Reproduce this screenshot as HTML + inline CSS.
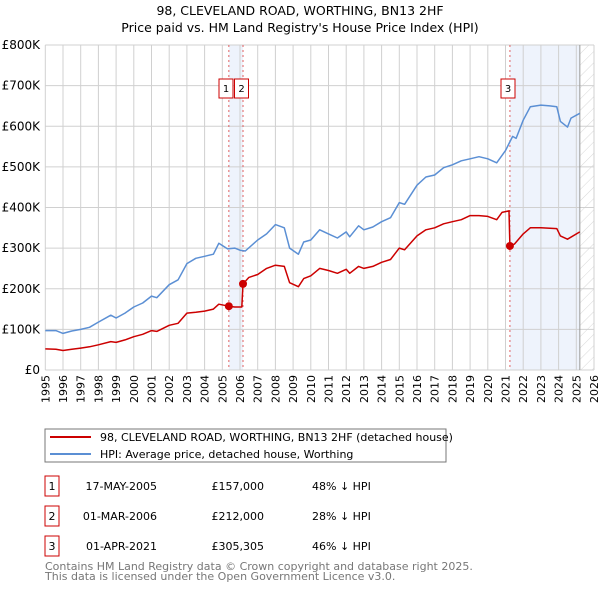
<!DOCTYPE html>
<html><head><meta charset="utf-8"><style>
body{margin:0;background:#fff;font-family:"Liberation Sans","DejaVu Sans",sans-serif;}
svg text{font-family:"DejaVu Sans","Liberation Sans",sans-serif;}
</style></head><body>
<svg id="c" width="600" height="590" viewBox="0 0 600 590" xmlns="http://www.w3.org/2000/svg">
<defs><pattern id="hatch" width="8" height="8" patternUnits="userSpaceOnUse" patternTransform="rotate(45)"><line x1="0" y1="0" x2="0" y2="8" stroke="#d8d8d8" stroke-width="1"/></pattern></defs>
<text x="300" y="15" text-anchor="middle" font-size="12.5">98, CLEVELAND ROAD, WORTHING, BN13 2HF</text>
<text x="300" y="32" text-anchor="middle" font-size="12.5">Price paid vs. HM Land Registry's House Price Index (HPI)</text>
<g id="bands"></g><g id="grid"></g><g id="series"></g><g id="marks"></g>
<rect x="45" y="429" width="401" height="33" fill="#fff" stroke="#777"/>
<line x1="50" y1="437" x2="91" y2="437" stroke="#cc0000" stroke-width="2"/>
<text x="100" y="441" font-size="11">98, CLEVELAND ROAD, WORTHING, BN13 2HF (detached house)</text>
<line x1="50" y1="454" x2="91" y2="454" stroke="#5b8fd4" stroke-width="2"/>
<text x="100" y="458" font-size="11">HPI: Average price, detached house, Worthing</text>
<g id="table" font-size="11"></g>
<text x="45" y="570" font-size="11" fill="#777">Contains HM Land Registry data © Crown copyright and database right 2025.</text>
<text x="45" y="580" font-size="11" fill="#777">This data is licensed under the Open Government Licence v3.0.</text>
</svg>
<script>
const yearTicks=[1995,1996,1997,1998,1999,2000,2001,2002,2003,2004,2005,2006,2007,2008,2009,2010,2011,2012,2013,2014,2015,2016,2017,2018,2019,2020,2021,2022,2023,2024,2025,2026];
const valueTicks=[0,100,200,300,400,500,600,700,800];
const valueTickLabels=["£0","£100K","£200K","£300K","£400K","£500K","£600K","£700K","£800K"];
const hpiDates=[1995,1995.6,1996,1996.5,1997,1997.5,1998,1998.7,1999,1999.5,2000,2000.5,2001,2001.3,2002,2002.5,2003,2003.5,2004,2004.5,2004.8,2005.3,2005.7,2006,2006.3,2007,2007.5,2008,2008.5,2008.8,2009.3,2009.6,2010,2010.5,2011,2011.5,2012,2012.2,2012.7,2013,2013.5,2014,2014.5,2015,2015.3,2016,2016.5,2017,2017.5,2018,2018.5,2019,2019.5,2020,2020.5,2021,2021.4,2021.6,2022,2022.4,2023,2023.5,2023.9,2024.1,2024.5,2024.7,2025.2];
const hpiValues=[97,97,90,96,100,105,118,135,128,140,155,165,182,178,210,222,262,275,280,285,312,298,300,295,293,320,335,358,350,300,285,315,320,345,335,325,340,328,355,345,352,365,375,412,408,455,475,480,498,505,515,520,525,520,510,540,575,570,615,648,652,650,648,612,598,620,632];
const propDates=[1995,1995.6,1996,1996.5,1997,1997.5,1998,1998.7,1999,1999.5,2000,2000.5,2001,2001.3,2002,2002.5,2003,2003.5,2004,2004.5,2004.8,2005.37,2005.7,2006.1,2006.17,2006.5,2007,2007.5,2008,2008.5,2008.8,2009.3,2009.6,2010,2010.5,2011,2011.5,2012,2012.2,2012.7,2013,2013.5,2014,2014.5,2015,2015.3,2016,2016.5,2017,2017.5,2018,2018.5,2019,2019.5,2020,2020.5,2020.8,2021.2,2021.25,2021.5,2022,2022.4,2023,2023.9,2024.1,2024.5,2025.2];
const propValues=[52,51,48,51,54,57,62,70,68,74,82,88,97,95,110,115,140,142,145,150,162,157,155,155,212,228,235,250,258,255,215,205,225,232,250,245,238,248,238,255,250,255,265,272,300,296,330,345,350,360,365,370,380,380,378,370,388,392,305,310,335,350,350,348,330,322,340];
const saleLabels=["1","2","3"];
const saleDates=[2005.37,2006.17,2021.25];
const salePrices=[157,212,305.305];
const saleDateText=["17-MAY-2005","01-MAR-2006","01-APR-2021"];
const salePriceText=["£157,000","£212,000","£305,305"];
const saleDiffText=["48% ↓ HPI","28% ↓ HPI","46% ↓ HPI"];
const dataEnd=2025.2;

const NS="http://www.w3.org/2000/svg";
const L=45.3,R=594,T=45,B=370;
const x=d=>L+(d-1995)*(R-L)/31;
const y=v=>B-v*(B-T)/800;
function mk(p,tag,at){const e=document.createElementNS(NS,tag);for(const k in at)e.setAttribute(k,at[k]);p.appendChild(e);return e;}
const bands=document.getElementById('bands'),grid=document.getElementById('grid'),ser=document.getElementById('series'),marks=document.getElementById('marks'),tbl=document.getElementById('table');
let b1=mk(bands,'rect',{x:x(saleDates[0]),y:T,width:x(saleDates[1])-x(saleDates[0]),height:B-T,fill:'#eef3fc'});


let b2=mk(bands,'rect',{x:x(saleDates[2]),y:T,width:x(dataEnd)-x(saleDates[2]),height:B-T,fill:'#eef3fc'});


let h=mk(bands,'rect',{x:x(dataEnd),y:T,width:R-x(dataEnd),height:B-T,fill:'url(#hatch)'});


yearTicks.forEach(yr=>{
  let g=mk(grid,'line',{x1:x(yr),x2:x(yr),y1:T,y2:B,stroke:'#d0d0d0','stroke-width':1});
  
  
  let t=mk(grid,'text',{x:0,y:0,transform:`translate(${x(yr)+4},${B+5}) rotate(-90)`,'text-anchor':'end','font-size':11});
  t.textContent=yr;
  
  
});
valueTicks.forEach((v,i)=>{
  let g=mk(grid,'line',{x1:L,x2:R,y1:y(v),y2:y(v),stroke:'#d0d0d0','stroke-width':1});
  
  
  let t=mk(grid,'text',{x:40,y:y(v)+4,'text-anchor':'end','font-size':12});
  t.textContent=valueTickLabels[i];
  
  
});
let ed=mk(grid,'line',{x1:x(dataEnd),x2:x(dataEnd),y1:T,y2:B,stroke:'#999','stroke-width':1});


saleDates.forEach((d,i)=>{
  let l=mk(grid,'line',{x1:x(d),x2:x(d),y1:T,y2:B,stroke:'#e06060','stroke-width':1,'stroke-dasharray':'2,3'});
  
  
});
const pts=(ds,vs)=>ds.map((d,i)=>x(d).toFixed(1)+','+y(vs[i]).toFixed(1)).join(' ');
let hp=mk(ser,'polyline',{points:pts(hpiDates,hpiValues),fill:'none',stroke:'#5b8fd4','stroke-width':1.5,'stroke-linejoin':'round'});


let pp=mk(ser,'polyline',{points:pts(propDates,propValues),fill:'none',stroke:'#cc0000','stroke-width':1.5,'stroke-linejoin':'round'});


const boxX=[226,241.5,508];
saleDates.forEach((d,i)=>{
  let c=mk(marks,'circle',{cx:x(d),cy:y(salePrices[i]),r:4,fill:'#cc0000'});
  
  
  let r=mk(marks,'rect',{x:boxX[i]-7,y:79,width:14,height:19,fill:'#fff',stroke:'#cc0000'});
  
  
  let t=mk(marks,'text',{x:boxX[i],y:92,'text-anchor':'middle','font-size':10});
  t.textContent=saleLabels[i];
  
  
  const ry=476+i*30;
  let br=mk(tbl,'rect',{x:45,y:ry,width:14,height:20,fill:'#fff',stroke:'#cc0000'});
  
  
  let bt=mk(tbl,'text',{x:52,y:ry+14,'text-anchor':'middle'});bt.textContent=saleLabels[i];
  
  
  let dt=mk(tbl,'text',{x:157,y:ry+14,'text-anchor':'end'});dt.textContent=saleDateText[i];
  
  
  let pt=mk(tbl,'text',{x:264,y:ry+14,'text-anchor':'end'});pt.textContent=salePriceText[i];
  
  
  let ht=mk(tbl,'text',{x:312,y:ry+14});ht.textContent=saleDiffText[i];
  
  
});
</script>
</body></html>
